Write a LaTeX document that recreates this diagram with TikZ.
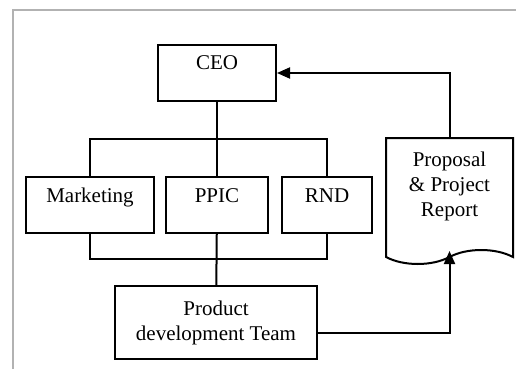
\documentclass[tikz,border=0pt]{standalone}
\usepackage{fontspec}
\setmainfont{Liberation Serif}
\usepackage{tikz}
\usetikzlibrary{arrows.meta,positioning,shapes}

\begin{document}
\begin{tikzpicture}
[x=1pt,y=-1pt,
unit/.style={rectangle,draw,line width=2pt,minimum width=#1,inner ysep=4pt,text height=21pt,text depth=27pt},
link/.style={line width=2pt},
arr/.style={line width=2pt,-{Triangle[length=13pt,width=11pt]}},
font=\fontsize{21}{25}\selectfont]
\useasboundingbox (0,0) rectangle (516,369);
\draw[line width=1.5pt,gray!60] (13,369) -- (13,10) -- (516,10);

\node[unit=118pt,anchor=north] (ceo) at (217,44) {CEO};
\node[unit=128pt,anchor=north] (mkt) at (90,176) {Marketing};
\node[unit=102pt,anchor=north] (ppic) at (217,176) {PPIC};
\node[unit=90pt,anchor=north] (rnd) at (327,176) {RND};
\node[rectangle,draw,line width=2pt,minimum width=202pt,minimum height=73pt,align=center,anchor=north] (team) at (216,285) {Product\\development Team};
\node[tape,draw,line width=2pt,tape bend top=none,tape bend bottom=in and out,tape bend height=14pt,minimum width=127pt,minimum height=126pt,text depth=20pt,align=center,anchor=north] (doc) at (449.5,137) {Proposal\\\& Project\\Report};

\draw[link] (ceo) -- (ppic);
\draw[link] (mkt.north) -- ++(0,-37) -| (rnd.north);
\draw[link] (mkt.south) -- ++(0,25) -| (rnd.south);
\draw[link] (ppic) -- (team);
\draw[arr] ([yshift=-10pt]team.east) -| (doc.south);
\draw[arr] (doc.north) |- (ceo.east);
\end{tikzpicture}
\end{document}
